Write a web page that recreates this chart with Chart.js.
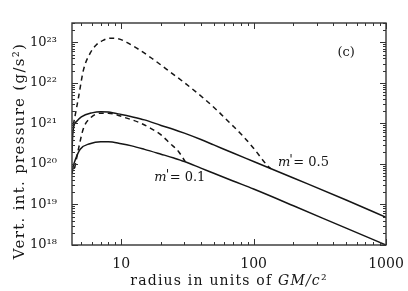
<!DOCTYPE html>
<html lang="en">
<head>
<meta charset="UTF-8">
<title>Vert. int. pressure</title>
<script src="https://cdn.jsdelivr.net/npm/chart.js"></script>
<style>
  html, body { margin: 0; padding: 0; background: #fff; }
  #wrap { width: 408px; height: 291px; }
</style>
</head>
<body>
<div id="wrap"><canvas id="grafico" width="408" height="291"></canvas></div>
<script>
// radius in units of GM/c^2, pressure in g/s^2
const radiusHigh = [4.25, 4.3, 4.4, 4.6, 5, 6, 7, 8, 10, 12, 15, 20, 25, 30, 40, 50, 70, 100, 200, 500, 1000];
const pressureHigh = [2.0e20, 5.0e20, 8.9e20, 1.12e21, 1.45e21, 1.82e21, 1.95e21, 1.9e21, 1.66e21, 1.46e21, 1.22e21, 8.9e20, 7.1e20, 5.75e20, 4.0e20, 2.95e20, 1.86e20, 1.15e20, 4.5e19, 1.29e19, 4.8e18];

const radiusLow = [4.25, 4.35, 4.5, 4.9, 5.8, 7, 8, 10, 12, 15, 20, 25, 30, 40, 50, 70, 100, 200, 500, 1000];
const pressureLow = [5.6e19, 8.9e19, 1.26e20, 2.3e20, 3.16e20, 3.55e20, 3.55e20, 3.16e20, 2.79e20, 2.29e20, 1.74e20, 1.4e20, 1.15e20, 7.9e19, 5.9e19, 3.8e19, 2.4e19, 9.3e18, 2.6e18, 1.0e18];

const radiusDashHigh = [4.35, 4.6, 4.77, 5.19, 5.83, 6.5, 7.3, 8.3, 9.5, 11, 13.1, 17, 23.4, 31, 41.8, 53, 66.5, 82, 100, 126, 135];
const pressureDashHigh = [9.2e20, 2.4e21, 4.6e21, 2.1e22, 5.4e22, 8.7e22, 1.12e23, 1.27e23, 1.23e23, 1.0e23, 7.2e22, 4.05e22, 1.87e22, 9.3e21, 4.2e21, 2.1e21, 1.01e21, 5.1e20, 2.44e20, 9.4e19, 7.6e19];

const radiusDashLow = [4.45, 4.77, 5.19, 5.83, 6.94, 8, 11, 14, 17.5, 20, 23.4, 27, 30.4];
const pressureDashLow = [7.9e19, 2.45e20, 7.6e20, 1.35e21, 1.78e21, 1.78e21, 1.35e21, 1.02e21, 6.9e20, 5.2e20, 3.2e20, 2.05e20, 1.15e20];

const xTicks = [10, 100, 1000];
const yTicks = [1e18, 1e19, 1e20, 1e21, 1e22, 1e23];

const serif = 'DejaVu Serif';
const ink = '#151515';
const sup = '⁰¹²³⁴⁵⁶⁷⁸⁹';

function toPoints(rs, ps) {
    return rs.map((r, i) => ({ x: r, y: ps[i] }));
}

function curve(rs, ps, dashed) {
    return {
        data: toPoints(rs, ps),
        borderColor: ink,
        borderWidth: 1.5,
        borderDash: dashed ? [5, 4] : [],
        pointRadius: 0,
        fill: false,
        cubicInterpolationMode: 'monotone'
    };
}

function expLabel(v) {
    const e = Math.round(Math.log10(v));
    return '10' + String(e).split('').map(d => sup[+d]).join('');
}

// frame with inward ticks on all four sides, titles and notes
const frame = {
    id: 'frame',
    afterDraw(chart) {
        const { ctx, chartArea: a, scales: { x, y } } = chart;
        ctx.save();
        ctx.strokeStyle = '#333';
        ctx.lineWidth = 1.4;
        ctx.strokeRect(a.left, a.top, a.right - a.left, a.bottom - a.top);

        ctx.lineWidth = 1;
        ctx.beginPath();
        for (let e = 0; e <= 3; e++) {
            for (let m = 1; m <= 9; m++) {
                const v = m * Math.pow(10, e);
                if (v < x.min || v > x.max) continue;
                const px = Math.round(x.getPixelForValue(v)) + 0.5;
                const len = m === 1 ? 6 : 3;
                ctx.moveTo(px, a.bottom); ctx.lineTo(px, a.bottom - len);
                ctx.moveTo(px, a.top); ctx.lineTo(px, a.top + len);
            }
        }
        for (let e = 18; e <= 23; e++) {
            for (let m = 1; m <= 9; m++) {
                const v = m * Math.pow(10, e);
                if (v < y.min || v > y.max) continue;
                const py = Math.round(y.getPixelForValue(v)) + 0.5;
                const len = m === 1 ? 6 : 3;
                ctx.moveTo(a.left, py); ctx.lineTo(a.left + len, py);
                ctx.moveTo(a.right, py); ctx.lineTo(a.right - len, py);
            }
        }
        ctx.stroke();

        ctx.fillStyle = ink;

        // y title
        ctx.save();
        ctx.translate(20, 151);
        ctx.rotate(-Math.PI / 2);
        ctx.font = '15px "' + serif + '"';
        ctx.letterSpacing = '1.3px';
        ctx.textAlign = 'center';
        ctx.textBaseline = 'middle';
        ctx.fillText('Vert. int. pressure (g/s²)', 0, 0);
        ctx.restore();

        // x title, GM/c in italics
        ctx.save();
        ctx.letterSpacing = '1.2px';
        const parts = [['radius in units of ', ''], ['GM/c', 'italic '], ['²', '']];
        let total = 0;
        parts.forEach(p => { ctx.font = p[1] + '14px "' + serif + '"'; total += ctx.measureText(p[0]).width; });
        let tx = (a.left + a.right) / 2 - total / 2;
        ctx.textAlign = 'left';
        ctx.textBaseline = 'middle';
        parts.forEach(p => {
            ctx.font = p[1] + '14px "' + serif + '"';
            ctx.fillText(p[0], tx, 281);
            tx += ctx.measureText(p[0]).width;
        });
        ctx.restore();

        // panel letter
        ctx.font = '13px "' + serif + '"';
        ctx.textAlign = 'center';
        ctx.textBaseline = 'middle';
        ctx.fillText('(c)', x.getPixelForValue(500), y.getPixelForValue(5.5e22));

        // accretion rate labels
        const notes = [['0.5', 232, 1.1e20], ['0.1', 27, 4.5e19]];
        notes.forEach(n => {
            let nx = x.getPixelForValue(n[1]) - 24;
            const ny = y.getPixelForValue(n[2]);
            ctx.textAlign = 'left';
            ctx.font = 'italic 13px "' + serif + '"';
            ctx.fillText('m', nx, ny);
            nx += ctx.measureText('m').width;
            ctx.font = '13px "' + serif + '"';
            ctx.fillText("'", nx - 1, ny - 2);
            nx += 3;
            ctx.fillText('= ' + n[0], nx, ny);
        });
        ctx.restore();
    }
};

new Chart(document.getElementById('grafico'), {
    type: 'line',
    data: {
        datasets: [
            curve(radiusHigh, pressureHigh, false),
            curve(radiusLow, pressureLow, false),
            curve(radiusDashHigh, pressureDashHigh, true),
            curve(radiusDashLow, pressureDashLow, true)
        ]
    },
    options: {
        responsive: false,
        devicePixelRatio: 1,
        animation: false,
        layout: { padding: { left: 0, top: 23, right: 22, bottom: 0 } },
        plugins: { legend: { display: false }, tooltip: { enabled: false } },
        scales: {
            x: {
                type: 'logarithmic',
                min: 4.25,
                max: 1000,
                afterBuildTicks: s => { s.ticks = xTicks.map(v => ({ value: v })); },
                afterFit: s => { s.height = 46; },
                grid: { display: false },
                border: { display: false },
                ticks: {
                    autoSkip: false,
                    maxRotation: 0,
                    padding: 3,
                    color: ink,
                    font: { family: serif, size: 14 },
                    callback: v => String(v)
                }
            },
            y: {
                type: 'logarithmic',
                min: 1e18,
                max: 3e23,
                afterBuildTicks: s => { s.ticks = yTicks.map(v => ({ value: v })); },
                afterFit: s => { s.width = 72; },
                grid: { display: false },
                border: { display: false },
                ticks: {
                    autoSkip: false,
                    padding: 7,
                    color: ink,
                    font: { family: serif, size: 13 },
                    callback: v => expLabel(v)
                }
            }
        }
    },
    plugins: [frame]
});
</script>
</body>
</html>
